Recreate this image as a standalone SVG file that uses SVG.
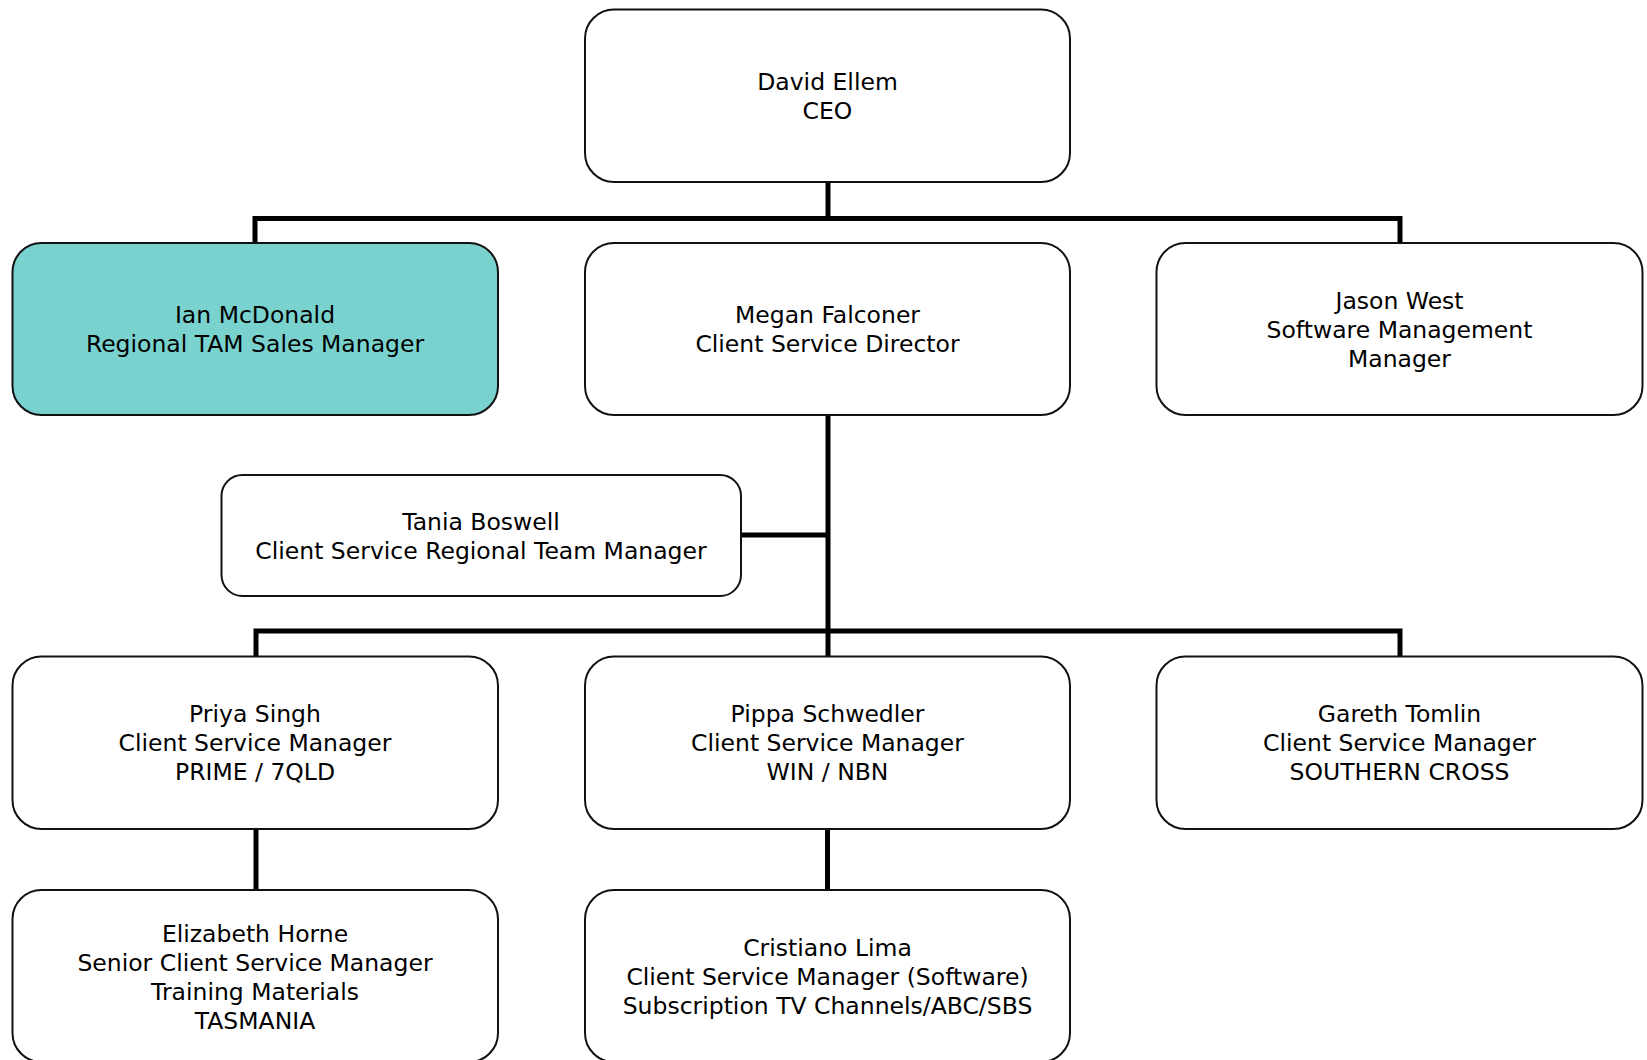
<svg xmlns="http://www.w3.org/2000/svg" width="1647" height="1060" viewBox="0 0 1647 1060">
<style>
.box{fill:#ffffff;stroke:#111111;stroke-width:2}
.hl{fill:#79D2CE}
.t{font-family:"DejaVu Sans","Liberation Sans",sans-serif;font-size:23.5px;fill:#000000;text-anchor:middle}
.c{fill:none;stroke:#000000;stroke-width:5;stroke-linecap:butt;stroke-linejoin:miter}
</style>
<rect width="1647" height="1060" fill="#ffffff"/>
<g id="connectors">
<path class="c" d="M828,182 V218.5 M255,243 V218.5 H1400 V243"/>
<path class="c" d="M828,415 V656.5"/>
<path class="c" d="M741,535 H828"/>
<path class="c" d="M256,656.5 V631 H1400 V656.5"/>
<path class="c" d="M256,829 V890"/>
<path class="c" d="M827.5,829 V890"/>
</g>
<g id="ceo">
<rect class="box" x="585" y="9.5" width="485" height="172.5" rx="29"/>
<text class="t" x="827.5" y="90">David Ellem</text>
<text class="t" x="827.5" y="119">CEO</text>
</g>
<g id="ian">
<rect class="box hl" x="12.5" y="243" width="485.5" height="172" rx="29"/>
<text class="t" x="255" y="323">Ian McDonald</text>
<text class="t" x="255" y="352">Regional TAM Sales Manager</text>
</g>
<g id="megan">
<rect class="box" x="585" y="243" width="485" height="172" rx="29"/>
<text class="t" x="827.5" y="323">Megan Falconer</text>
<text class="t" x="827.5" y="352">Client Service Director</text>
</g>
<g id="jason">
<rect class="box" x="1156.5" y="243" width="486" height="172" rx="29"/>
<text class="t" x="1399.5" y="308.5">Jason West</text>
<text class="t" x="1399.5" y="337.5">Software Management</text>
<text class="t" x="1399.5" y="366.5">Manager</text>
</g>
<g id="tania">
<rect class="box" x="221.5" y="475" width="519.5" height="121" rx="21"/>
<text class="t" x="481" y="530">Tania Boswell</text>
<text class="t" x="481" y="559">Client Service Regional Team Manager</text>
</g>
<g id="priya">
<rect class="box" x="12.5" y="656.5" width="485.5" height="172.5" rx="29"/>
<text class="t" x="255" y="722">Priya Singh</text>
<text class="t" x="255" y="751">Client Service Manager</text>
<text class="t" x="255" y="780">PRIME / 7QLD</text>
</g>
<g id="pippa">
<rect class="box" x="585" y="656.5" width="485" height="172.5" rx="29"/>
<text class="t" x="827.5" y="722">Pippa Schwedler</text>
<text class="t" x="827.5" y="751">Client Service Manager</text>
<text class="t" x="827.5" y="780">WIN / NBN</text>
</g>
<g id="gareth">
<rect class="box" x="1156.5" y="656.5" width="486" height="172.5" rx="29"/>
<text class="t" x="1399.5" y="722">Gareth Tomlin</text>
<text class="t" x="1399.5" y="751">Client Service Manager</text>
<text class="t" x="1399.5" y="780">SOUTHERN CROSS</text>
</g>
<g id="elizabeth">
<rect class="box" x="12.5" y="890" width="485.5" height="172" rx="29"/>
<text class="t" x="255" y="941.5">Elizabeth Horne</text>
<text class="t" x="255" y="970.5">Senior Client Service Manager</text>
<text class="t" x="255" y="999.5">Training Materials</text>
<text class="t" x="255" y="1028.5">TASMANIA</text>
</g>
<g id="cristiano">
<rect class="box" x="585" y="890" width="485" height="172" rx="29"/>
<text class="t" x="827.5" y="956">Cristiano Lima</text>
<text class="t" x="827.5" y="985">Client Service Manager (Software)</text>
<text class="t" x="827.5" y="1014">Subscription TV Channels/ABC/SBS</text>
</g>
</svg>
